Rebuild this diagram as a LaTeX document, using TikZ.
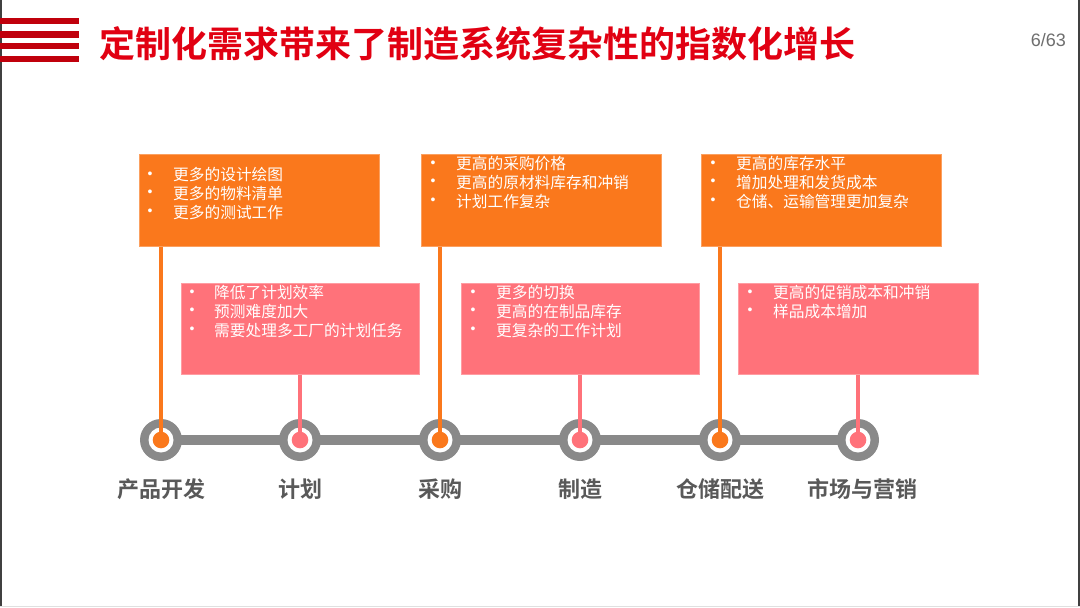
\documentclass[tikz,border=0pt]{standalone}
\usepackage{fontspec}
\newfontfamily\cjk{Noto Sans CJK SC}
\newfontfamily\cjkb{Noto Sans CJK SC Bold}
\setmainfont{Liberation Sans}
\definecolor{stripe}{RGB}{192,0,12}
\definecolor{titlered}{RGB}{225,0,18}
\definecolor{boxor}{RGB}{250,120,28}
\definecolor{boxpk}{RGB}{255,114,122}
\definecolor{ring}{RGB}{137,137,137}
\definecolor{lbl}{RGB}{89,89,89}
\definecolor{pagenum}{RGB}{110,110,110}
\begin{document}
\begin{tikzpicture}[x=1pt,y=-1pt,
  orbox/.style={fill=boxor,draw=boxor!70!white,line width=0.6pt},
  pkbox/.style={fill=boxpk,draw=boxpk!70!white,line width=0.6pt},
  itemtxt/.style={text=white,font=\cjk\fontsize{15.7}{18}\selectfont,anchor=west,inner sep=0pt},
  bul/.style={text=white,font=\fontsize{14}{14}\selectfont,anchor=center,inner sep=0pt},
  stem/.style={line width=4.2pt},
  steplbl/.style={text=lbl,font=\cjkb\fontsize{22}{24}\selectfont,anchor=center,inner sep=0pt},
  ringc/.style={circle,fill=ring,minimum size=42pt,inner sep=0pt},
  holec/.style={circle,fill=white,minimum size=25pt,inner sep=0pt},
]
\useasboundingbox (0,0) rectangle (1080,608);
\fill[white] (0,0) rectangle (1080,608);
% frame edges
\draw[line width=1.6pt,color=black!75] (0.8,0) -- (0.8,606);
\draw[line width=1.6pt,color=black!75] (1079.2,0) -- (1079.2,606);
\draw[line width=0.8pt,color=black!12] (0,606.5) -- (1080,606.5);
% stripes
\foreach \y in {21,34.5,46,59}{\fill[stripe] (0,\y-3.2) rectangle (79,\y+3.2);}
% title
\node[text=titlered,font=\cjkb\fontsize{36}{40}\selectfont,anchor=west,inner sep=0pt] (title) at (99,44) {定制化需求带来了制造系统复杂性的指数化增长};
\node[text=pagenum,font=\fontsize{18}{20}\selectfont,anchor=east,inner sep=0pt] (pg) at (1066,40) {6/63};
% boxes
\node[orbox,minimum width=240pt,minimum height=92pt,inner sep=0pt,anchor=north west] (o1) at (139,154) {};
\node[orbox,minimum width=240pt,minimum height=92pt,inner sep=0pt,anchor=north west] (o2) at (421,154) {};
\node[orbox,minimum width=240pt,minimum height=92pt,inner sep=0pt,anchor=north west] (o3) at (701,154) {};
\node[pkbox,minimum width=238pt,minimum height=91pt,inner sep=0pt,anchor=north west] (p1) at (181,283) {};
\node[pkbox,minimum width=238pt,minimum height=91pt,inner sep=0pt,anchor=north west] (p2) at (461,283) {};
\node[pkbox,minimum width=240pt,minimum height=91pt,inner sep=0pt,anchor=north west] (p3) at (738,283) {};
% timeline
\coordinate (c1) at (161,440);
\coordinate (c2) at (300,440);
\coordinate (c3) at (440,440);
\coordinate (c4) at (580,440);
\coordinate (c5) at (720,440);
\coordinate (c6) at (858,440);
\draw[ring,line width=10pt] (c1) -- (c6);
\foreach \c in {c1,c2,c3,c4,c5,c6}{\node[ringc] (r\c) at (\c) {}; \node[holec] (h\c) at (\c) {};}
% stems
\draw[stem,boxor] (o1.south -| c1) -- (c1);
\draw[stem,boxor] (o2.south -| c3) -- (c3);
\draw[stem,boxor] (o3.south -| c5) -- (c5);
\draw[stem,boxpk] (p1.south -| c2) -- (c2);
\draw[stem,boxpk] (p2.south -| c4) -- (c4);
\draw[stem,boxpk] (p3.south -| c6) -- (c6);
\foreach \c/\col in {c1/boxor,c2/boxpk,c3/boxor,c4/boxpk,c5/boxor,c6/boxpk}{\fill[\col] (\c) circle (8.3pt);}
% labels
\node[steplbl] (l1) at (161,489) {产品开发};
\node[steplbl] (l2) at (300,489) {计划};
\node[steplbl] (l3) at (440,489) {采购};
\node[steplbl] (l4) at (580,489) {制造};
\node[steplbl] (l5) at (720,489) {仓储配送};
\node[steplbl] (l6) at (862,489) {市场与营销};
% box texts
\foreach \t [count=\i] in {更多的设计绘图,更多的物料清单,更多的测试工作}{
  \node[bul] at (150,{175+(\i-1)*18.7}) {•};
  \node[itemtxt] at (173,{175+(\i-1)*18.7}) {\t};}
\foreach \t [count=\i] in {更高的采购价格,更高的原材料库存和冲销,计划工作复杂}{
  \node[bul] at (433,{164+(\i-1)*18.7}) {•};
  \node[itemtxt] at (456,{164+(\i-1)*18.7}) {\t};}
\foreach \t [count=\i] in {更高的库存水平,增加处理和发货成本,仓储、运输管理更加复杂}{
  \node[bul] at (713,{164+(\i-1)*18.7}) {•};
  \node[itemtxt] at (736,{164+(\i-1)*18.7}) {\t};}
\foreach \t [count=\i] in {降低了计划效率,预测难度加大,需要处理多工厂的计划任务}{
  \node[bul] at (192,{293+(\i-1)*18.7}) {•};
  \node[itemtxt] at (214,{293+(\i-1)*18.7}) {\t};}
\foreach \t [count=\i] in {更多的切换,更高的在制品库存,更复杂的工作计划}{
  \node[bul] at (473,{293+(\i-1)*18.7}) {•};
  \node[itemtxt] at (496,{293+(\i-1)*18.7}) {\t};}
\foreach \t [count=\i] in {更高的促销成本和冲销,样品成本增加}{
  \node[bul] at (750,{293+(\i-1)*18.7}) {•};
  \node[itemtxt] at (773,{293+(\i-1)*18.7}) {\t};}
\end{tikzpicture}
\end{document}
